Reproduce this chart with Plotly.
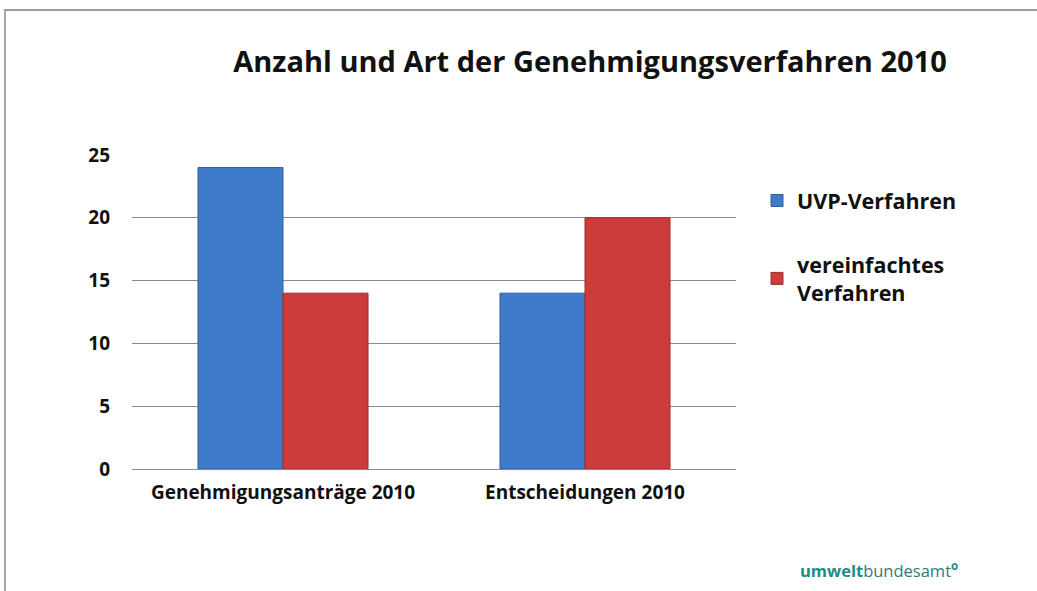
import plotly.graph_objects as go

categories = ["Genehmigungsanträge 2010", "Entscheidungen 2010"]
uvp_values = [24, 14]
vereinfacht_values = [14, 20]
series_names = ["UVP-Verfahren", "vereinfachtes<br>Verfahren"]
y_ticks = [0, 5, 10, 15, 20, 25]

W, H = 1037, 591
ml, mr, mt, mb = 132, 301, 155, 122
pw, ph = W - ml - mr, H - mt - mb

def px_to_paper_x(px):
    return (px - ml) / pw

def px_to_paper_y(py):
    return (H - mb - py) / ph

FONT = "Open Sans"

fig = go.Figure()
fig.add_trace(go.Bar(
    x=categories, y=uvp_values, name=series_names[0],
    marker=dict(color="#3F7BCB", line=dict(color="#2E5E9E", width=1)),
    legendgroup="a",
))
fig.add_trace(go.Bar(
    x=categories, y=vereinfacht_values, name=series_names[1],
    marker=dict(color="#CC3C3A", line=dict(color="#9E2C2A", width=1)),
    legendgroup="b",
))

fig.update_layout(
    width=W, height=H,
    margin=dict(l=ml, r=mr, t=mt, b=mb),
    paper_bgcolor="white", plot_bgcolor="white",
    barmode="group", bargap=0.437, bargroupgap=0,
    font=dict(family=FONT, color="#1a1a1a"),
    title=dict(
        text="Anzahl und Art der Genehmigungsverfahren 2010",
        x=px_to_paper_x(590), xref="paper", xanchor="center",
        y=1 - 62 / H, yanchor="middle",
        font=dict(family=FONT, size=29, weight="bold", color="#111111"),
    ),
    xaxis=dict(
        showgrid=False, showline=True, linecolor="#8a8a8a", linewidth=1,
        ticks="", tickfont=dict(family=FONT, size=19, weight="bold", color="#111111"),
        ticklabelstandoff=6,
    ),
    yaxis=dict(
        range=[0, 25], tickvals=y_ticks, showgrid=True, gridcolor="#8a8a8a",
        gridwidth=1, zeroline=False, ticks="",
        tickfont=dict(family=FONT, size=19, weight="bold", color="#111111"),
        ticklabelstandoff=21,
    ),
    legend=dict(
        x=px_to_paper_x(757), xanchor="left",
        y=px_to_paper_y(180), yanchor="top",
        font=dict(family=FONT, size=21.5, weight="bold", color="#111111"),
        traceorder="grouped", tracegroupgap=33,
        itemwidth=30, bgcolor="rgba(0,0,0,0)",
    ),
    showlegend=True,
)

# frame lines (top and left), like the slide border
fig.add_shape(type="line", xref="paper", yref="paper",
              x0=px_to_paper_x(4), x1=px_to_paper_x(W), y0=px_to_paper_y(10), y1=px_to_paper_y(10),
              line=dict(color="#9a9a9a", width=2))
fig.add_shape(type="line", xref="paper", yref="paper",
              x0=px_to_paper_x(5), x1=px_to_paper_x(5), y0=px_to_paper_y(10), y1=px_to_paper_y(H),
              line=dict(color="#a8a8a8", width=2))

# logo text
fig.add_annotation(
    xref="paper", yref="paper",
    x=px_to_paper_x(879), y=px_to_paper_y(570),
    xanchor="center", yanchor="middle", showarrow=False,
    text='<span style="color:#1E8C86"><b>umwelt</b></span><span style="color:#2C7B78">bundesamt</span><span style="color:#1E8C86"><sup><b>o</b></sup></span>',
    font=dict(family=FONT, size=16.5),
)

fig.write_html("out.html", config={"displayModeBar": False},
               post_script="document.body.style.margin='0';")
